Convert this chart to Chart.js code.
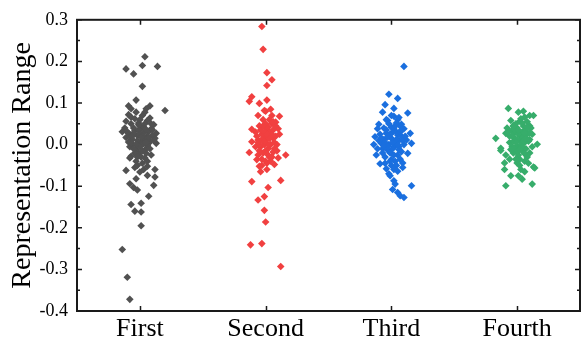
<!DOCTYPE html>
<html><head><meta charset="utf-8">
<script src="https://cdn.jsdelivr.net/npm/chart.js@4.4.1/dist/chart.umd.min.js"></script>
<style>html,body{margin:0;padding:0;background:#fff;}</style>
</head><body>
<canvas id="c" width="584" height="343"></canvas>
<script>
const categories = ['First', 'Second', 'Third', 'Fourth'];
const yTickValues = [-0.4, -0.3, -0.2, -0.1, 0.0, 0.1, 0.2, 0.3];
const colors = ['#515151', '#F14040', '#1A6FDF', '#37AD6B'];

// [horizontal jitter (category units), value]
const firstPoints = [
 [0.04,0.211],[-0.11,0.182],[0.02,0.190],[0.14,0.188],[-0.05,0.170],[0.02,0.140],[-0.03,0.107],[0.20,0.082],
 [-0.09,0.093],[-0.07,0.086],[0.08,0.093],[0.05,0.086],[-0.03,0.078],[0.04,0.078],[-0.07,0.066],[0.08,0.064],
 [-0.11,0.056],[-0.01,0.052],[0.11,0.048],
 [-0.14,0.031],[-0.09,0.028],[-0.04,0.034],[0.01,0.038],[0.07,0.031],[0.13,0.027],[-0.11,0.017],[0.12,0.015],
 [-0.08,-0.005],[-0.01,0.003],[0.07,0.003],[0.13,0.003],[-0.07,-0.028],[-0.01,-0.021],[0.05,-0.021],[0.09,-0.025],
 [-0.03,-0.040],[0.04,-0.032],[-0.08,-0.032],
 [0.00,0.045],[-0.05,0.040],[0.03,0.042],[0.06,0.020],[-0.02,0.022],[0.02,0.010],[-0.06,0.012],[0.09,0.038],
 [-0.09,0.006],[0.05,-0.010],[-0.03,-0.012],[0.00,-0.005],[0.10,0.022],[-0.12,0.040],[0.08,0.008],[-0.04,-0.020],
 [0.03,0.028],[-0.01,0.035],[0.06,-0.002],[-0.06,0.002],[0.01,-0.030],[-0.05,0.028],[0.04,0.015],[-0.08,0.020],
 [0.00,0.060],[-0.04,0.062],[0.06,0.058],[0.10,0.035],[0.02,-0.045],[-0.02,-0.050],
 [-0.02,0.010],[0.03,0.002],[0.07,0.016],[-0.06,0.020],[0.00,0.025],[0.05,0.036],[-0.03,0.000],[0.02,-0.015],
 [0.08,-0.010],[-0.05,-0.010],[-0.01,0.048],[0.04,0.050],[0.11,0.010],[-0.10,0.030],[0.01,0.018],[-0.07,0.050],
 [0.05,0.005],[-0.02,-0.030],[0.06,-0.040],[-0.04,-0.055],[0.03,-0.060],[0.09,0.050],[-0.09,0.072],[0.02,0.070],
 [-0.11,-0.062],[0.00,-0.066],[0.06,-0.052],[0.12,-0.060],[-0.03,-0.082],[0.06,-0.074],[0.12,-0.078],[-0.08,-0.094],
 [-0.05,-0.103],[-0.02,-0.109],[0.11,-0.098],[0.07,-0.124],[-0.07,-0.144],[0.01,-0.141],[-0.04,-0.160],[0.01,-0.162],
 [0.01,-0.195],[-0.14,-0.252],[-0.10,-0.319],[-0.08,-0.372]
];
const secondPoints = [
 [-0.03,0.284],[-0.02,0.229],[0.01,0.173],[0.05,0.156],[0.01,0.142],[-0.11,0.115],[-0.13,0.104],[-0.05,0.099],
 [0.01,0.107],[-0.01,0.082],[-0.06,0.070],[0.05,0.070],[0.11,0.068],[0.08,0.054],[-0.11,0.037],[0.02,0.042],
 [0.10,0.038],[-0.11,0.007],[-0.06,0.011],[0.06,0.015],[-0.13,-0.019],[0.16,-0.025],[-0.07,-0.036],[0.10,-0.032],
 [-0.05,-0.052],[0.01,-0.060],[0.07,-0.048],
 [0.00,0.050],[0.03,0.030],[-0.03,0.025],[0.06,0.035],[-0.05,0.045],[0.00,0.010],[0.04,0.000],[-0.04,-0.005],
 [0.07,-0.010],[-0.02,-0.020],[0.02,-0.025],[0.08,0.020],[-0.07,0.020],[0.01,0.040],[-0.01,0.000],[0.05,-0.030],
 [-0.03,-0.035],[0.03,0.060],[-0.02,0.060],[0.09,0.000],[-0.08,-0.005],[0.02,-0.010],[-0.05,0.000],[0.05,0.050],
 [0.00,-0.040],[0.04,0.018],[-0.01,0.018],[0.07,0.005],[-0.06,-0.025],[0.01,-0.045],
 [-0.04,0.035],[0.05,0.025],[-0.01,0.030],[0.08,0.045],[-0.06,0.005],[0.03,0.015],[0.00,-0.015],[0.06,-0.018],
 [-0.03,0.012],[0.01,0.025],[-0.05,-0.015],[0.04,-0.040],[-0.02,0.045],[0.09,-0.015],[0.02,0.000],[-0.08,0.030],
 [0.06,0.055],[0.03,-0.030],[-0.03,-0.050],[0.00,0.080],[0.04,0.085],[-0.04,-0.065],[0.11,0.025],[-0.01,0.008],
 [-0.11,-0.089],[0.12,-0.086],[0.02,-0.103],[-0.01,-0.125],[-0.06,-0.133],[-0.01,-0.158],[0.00,-0.186],
 [-0.12,-0.241],[-0.03,-0.238],[0.12,-0.293]
];
const thirdPoints = [
 [0.10,0.188],[-0.02,0.121],[0.05,0.111],[-0.05,0.096],[0.02,0.087],[-0.07,0.078],[0.13,0.076],[0.02,0.068],
 [-0.03,0.058],[0.05,0.060],[-0.10,0.049],[0.08,0.049],[-0.11,0.038],[0.00,0.042],[0.10,0.038],[0.15,0.027],
 [-0.13,0.019],[-0.04,0.027],[0.05,0.023],[0.12,0.011],[-0.14,0.000],[-0.08,0.003],[0.16,0.003],[-0.12,-0.025],
 [-0.03,-0.013],[0.08,-0.017],[0.13,-0.021],[-0.09,-0.046],[0.00,-0.036],[0.09,-0.044],[-0.04,-0.058],[0.05,-0.064],
 [-0.01,-0.075],[0.02,-0.087],[0.01,-0.108],[0.16,-0.099],[0.05,-0.115],[0.07,-0.123],[0.10,-0.127],
 [0.00,0.015],[0.03,0.005],[-0.02,0.000],[0.06,0.010],[-0.06,0.012],[0.02,-0.005],[-0.04,0.035],[0.04,0.030],
 [0.08,0.020],[-0.09,0.025],[0.01,0.030],[-0.01,-0.020],[0.05,-0.025],[0.10,0.000],[-0.07,-0.010],[0.03,-0.040],
 [-0.05,-0.030],[0.07,0.045],[-0.02,0.050],[0.00,-0.050],[0.04,0.052],[-0.10,0.010],[0.06,-0.005],[-0.03,0.018],
 [0.02,0.040],
 [-0.06,0.040],[0.03,0.045],[-0.01,0.025],[0.07,0.030],[-0.08,0.015],[0.04,0.012],[-0.05,0.005],[0.09,0.010],
 [0.01,-0.010],[-0.03,-0.005],[0.06,-0.012],[-0.07,-0.020],[0.02,-0.025],[-0.01,-0.040],[0.07,-0.035],[0.04,-0.050],
 [-0.05,-0.045],[0.02,-0.060],[0.06,0.065],[-0.04,0.060],[0.00,0.070],[0.09,-0.055],[-0.02,-0.070],[0.03,-0.095],
 [0.11,0.020],[-0.11,-0.010],[0.05,0.000],[-0.06,-0.003],[0.01,0.005],[0.08,0.035]
];
const fourthPoints = [
 [-0.07,0.087],[0.01,0.078],[0.05,0.080],[0.10,0.070],[0.13,0.070],[0.06,0.066],[0.02,0.056],[0.10,0.045],
 [-0.03,0.045],[-0.17,0.015],[-0.09,0.027],[0.16,0.001],[-0.13,-0.009],[-0.13,-0.014],[-0.09,-0.025],[-0.10,-0.044],
 [0.00,-0.044],[0.13,-0.054],[-0.10,-0.060],[0.06,-0.065],[-0.05,-0.075],[0.01,-0.075],[0.04,-0.083],[0.14,-0.056],
 [-0.09,-0.099],[0.12,-0.095],
 [0.00,0.040],[0.04,0.030],[-0.04,0.035],[0.08,0.025],[-0.02,0.015],[0.02,0.010],[0.06,0.005],[-0.06,0.005],
 [0.10,0.012],[0.00,-0.005],[0.04,-0.015],[-0.03,-0.020],[0.08,-0.030],[0.02,-0.035],[-0.06,0.020],[0.12,0.025],
 [0.05,0.045],[-0.01,0.050],[0.07,-0.010],[-0.04,-0.005],[0.10,-0.020],[0.03,0.020],[-0.08,0.040],[0.01,-0.025],
 [0.06,-0.040],
 [-0.05,0.058],[0.03,0.062],[0.08,0.055],[-0.02,0.030],[0.01,0.025],[0.05,0.018],[0.09,0.008],[-0.07,0.030],
 [-0.03,0.008],[0.03,0.000],[0.07,0.035],[0.11,0.040],[-0.05,-0.012],[0.00,0.012],[0.04,0.052],[-0.02,-0.008],
 [0.06,-0.022],[0.09,-0.045],[0.02,-0.050],[-0.01,-0.035],[0.12,-0.005],[0.05,0.008],[-0.04,0.022],[0.08,0.042],
 [0.01,0.035],[-0.06,-0.035],[0.03,-0.060],[0.07,0.015],[-0.01,0.005],[0.10,0.028],[0.04,-0.005],[-0.03,0.045],
 [0.06,0.028],[0.00,-0.015],[0.02,-0.012]
];
const groups = [firstPoints, secondPoints, thirdPoints, fourthPoints];

const framePlugin = {
  id: 'frame',
  afterDatasetsDraw(chart) {
    const {ctx, chartArea: a, scales: {x, y}} = chart;
    ctx.save();
    ctx.strokeStyle = '#1a1a1a';
    ctx.lineWidth = 1.5;
    ctx.beginPath();
    categories.forEach((c, i) => {
      const px = Math.round(x.getPixelForValue(i + 1)) + 0.5;
      ctx.moveTo(px, a.top); ctx.lineTo(px, a.top + 5);
      ctx.moveTo(px, a.bottom); ctx.lineTo(px, a.bottom - 5);
    });
    yTickValues.forEach((v, i) => {
      const py = y.getPixelForValue(v);
      ctx.moveTo(a.left, py); ctx.lineTo(a.left + 5, py);
      ctx.moveTo(a.right, py); ctx.lineTo(a.right - 5, py);
      if (i < yTickValues.length - 1) {
        const pm = (py + y.getPixelForValue(yTickValues[i + 1])) / 2;
        ctx.moveTo(a.left, pm); ctx.lineTo(a.left + 3, pm);
        ctx.moveTo(a.right, pm); ctx.lineTo(a.right - 3, pm);
      }
    });
    ctx.stroke();
    ctx.lineWidth = 2;
    ctx.strokeRect(a.left, a.top, a.right - a.left, a.bottom - a.top);
    ctx.restore();
  }
};

new Chart(document.getElementById('c'), {
  type: 'scatter',
  data: {
    datasets: groups.map((g, i) => ({
      label: categories[i],
      data: g.map(p => ({x: i + 1 + p[0], y: p[1]})),
      backgroundColor: colors[i],
      borderColor: colors[i],
      borderWidth: 0,
      pointStyle: 'rectRot',
      pointRadius: 3.8,
      pointHoverRadius: 3.8
    }))
  },
  options: {
    responsive: false,
    animation: false,
    events: [],
    layout: {padding: {left: 0, right: 4, top: 14, bottom: 0}},
    plugins: {legend: {display: false}, tooltip: {enabled: false}},
    scales: {
      x: {
        type: 'linear', min: 0.5, max: 4.5,
        afterBuildTicks: s => { s.ticks = categories.map((c, i) => ({value: i + 1})); },
        afterFit: s => { s.height = 32; },
        ticks: {
          callback: v => categories[Math.round(v) - 1],
          font: {family: 'Liberation Serif', size: 26}, color: '#000',
          padding: 3, maxRotation: 0, autoSkip: false
        },
        grid: {display: false, drawTicks: false},
        border: {display: false}
      },
      y: {
        min: -0.4, max: 0.3,
        afterBuildTicks: s => { s.ticks = yTickValues.map(v => ({value: v})); },
        afterFit: s => { s.width = 77; },
        ticks: {
          callback: v => v.toFixed(1),
          font: {family: 'Liberation Serif', size: 18}, color: '#000',
          padding: 9
        },
        grid: {display: false, drawTicks: false},
        border: {display: false},
        title: {
          display: true, text: 'Representation Range',
          font: {family: 'Liberation Serif', size: 28}, color: '#000',
          padding: {top: 6, bottom: 0}
        }
      }
    }
  },
  plugins: [framePlugin]
});
</script>
</body></html>
